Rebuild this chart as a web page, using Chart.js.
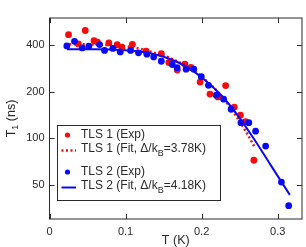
<!DOCTYPE html>
<html>
<head>
<meta charset="utf-8">
<script src="https://cdn.jsdelivr.net/npm/chart.js@4"></script>
<style>
  html, body { margin: 0; padding: 0; background: #fff; }
  #wrap { width: 306px; height: 247px; }
</style>
</head>
<body>
<div id="wrap"><canvas id="t1Chart" width="306" height="247"></canvas></div>
<script>
// temperature (K) and T1 (ns)
const tls1ExpT  = [0.025, 0.047, 0.038, 0.0585, 0.063, 0.078, 0.089, 0.095, 0.109, 0.127, 0.147, 0.157, 0.168, 0.178, 0.186, 0.198, 0.211, 0.2215, 0.2316, 0.243, 0.251, 0.2576, 0.2687];
const tls1ExpT1 = [468, 498, 408, 428, 418, 414, 403, 388, 405, 366, 353, 309, 276, 302, 287, 231, 193, 185, 219, 159, 141, 128, 72];

const tls2ExpT  = [0.0228, 0.0329, 0.043, 0.0517, 0.0658, 0.0724, 0.0833, 0.093, 0.1066, 0.117, 0.128, 0.137, 0.147, 0.1614, 0.1678, 0.1796, 0.1897, 0.1996, 0.209, 0.2193, 0.229, 0.2388, 0.2517, 0.2621, 0.271, 0.2842, 0.3049, 0.3145];
const tls2ExpT1 = [396, 424, 384, 394, 404, 370, 381, 362, 370, 357, 350, 336, 315, 300, 286, 280, 280, 250, 220, 190, 179, 154, 126, 126, 111, 89, 52, 36.6];

const tls1FitT  = [0.026, 0.066, 0.105, 0.136, 0.162, 0.189, 0.215, 0.237, 0.257, 0.269];
const tls1FitT1 = [406, 403, 391, 360, 325, 275, 215, 160, 113, 89];

const tls2FitT  = [0.023, 0.06, 0.1, 0.13, 0.15, 0.17, 0.19, 0.21, 0.23, 0.25, 0.27, 0.29, 0.316];
const tls2FitT1 = [377, 377, 371, 358, 337, 308, 270, 225, 180, 135, 97, 68, 43];

const xTicks = [0, 0.1, 0.2, 0.3];
const yTicks = [50, 100, 200, 400];

const RED = "rgb(250,10,10)";
const BLUE = "rgb(10,10,245)";
const INK = "#2a2a2a";
const FONT = "'Liberation Sans', Arial, Helvetica, sans-serif";

const pts = (xs, ys) => xs.map((x, i) => ({ x: x, y: ys[i] }));

Chart.defaults.font.family = FONT;
Chart.defaults.color = INK;

// frame, inward ticks, axis titles and the boxed legend
const decor = {
  id: "decor",
  afterDraw(chart) {
    const { ctx, chartArea: a, scales } = chart;
    const xs = scales.x, ys = scales.y;
    ctx.save();
    ctx.strokeStyle = INK;
    ctx.lineWidth = 1;
    ctx.strokeRect(a.left, a.top, a.right - a.left, a.bottom - a.top);
    ctx.beginPath();
    const tl = 5;
    xTicks.forEach(v => {
      const p = Math.round(xs.getPixelForValue(v)) + 0.5;
      ctx.moveTo(p, a.bottom); ctx.lineTo(p, a.bottom - tl);
      ctx.moveTo(p, a.top); ctx.lineTo(p, a.top + tl);
    });
    yTicks.forEach(v => {
      const p = Math.round(ys.getPixelForValue(v)) + 0.5;
      ctx.moveTo(a.left, p); ctx.lineTo(a.left + tl, p);
      ctx.moveTo(a.right, p); ctx.lineTo(a.right - tl, p);
    });
    ctx.stroke();

    // x title
    ctx.fillStyle = INK;
    ctx.font = "12.5px " + FONT;
    ctx.textAlign = "center";
    ctx.textBaseline = "middle";
    ctx.fillText("T (K)", (a.left + a.right) / 2, 241);

    // y title with subscript
    ctx.save();
    ctx.translate(12, (a.top + a.bottom) / 2);
    ctx.rotate(-Math.PI / 2);
    ctx.textAlign = "left";
    ctx.font = "12.5px " + FONT;
    const wT = ctx.measureText("T").width;
    ctx.font = "9px " + FONT;
    const w1 = ctx.measureText("1").width;
    ctx.font = "12.5px " + FONT;
    const wRest = ctx.measureText(" (ns)").width;
    let x0 = -(wT + w1 + wRest) / 2;
    ctx.fillText("T", x0, 0);
    ctx.font = "9px " + FONT;
    ctx.fillText("1", x0 + wT, 4);
    ctx.font = "12.5px " + FONT;
    ctx.fillText(" (ns)", x0 + wT + w1, 0);
    ctx.restore();

    // legend box
    const bx = 57.5, by = 125.5, bw = 163, bh = 75;
    ctx.fillStyle = "#fff";
    ctx.fillRect(bx, by, bw, bh);
    ctx.strokeStyle = INK;
    ctx.strokeRect(bx, by, bw, bh);

    const rows = [
      { kind: "dot", color: RED, y: 135, parts: ["TLS 1 (Exp)"] },
      { kind: "dash", color: RED, y: 148.5, parts: ["TLS 1 (Fit, \u0394/k", "B", "=3.78K)"] },
      { kind: "dot", color: BLUE, y: 172, parts: ["TLS 2 (Exp)"] },
      { kind: "line", color: BLUE, y: 185.5, parts: ["TLS 2 (Fit, \u0394/k", "B", "=4.18K)"] }
    ];
    rows.forEach(r => {
      ctx.strokeStyle = r.color;
      ctx.fillStyle = r.color;
      if (r.kind === "dot") {
        ctx.beginPath();
        ctx.arc(67.5, r.y, 2.6, 0, Math.PI * 2);
        ctx.fill();
      } else {
        ctx.beginPath();
        ctx.lineWidth = r.kind === "dash" ? 2.5 : 2;
        ctx.setLineDash(r.kind === "dash" ? [2, 2.5] : []);
        ctx.moveTo(61.5, r.y + 2);
        ctx.lineTo(76, r.y + 2);
        ctx.stroke();
        ctx.setLineDash([]);
      }
      ctx.fillStyle = INK;
      ctx.textAlign = "left";
      ctx.textBaseline = "middle";
      let tx = 81;
      r.parts.forEach((s, i) => {
        const sub = i === 1;
        ctx.font = (sub ? "9px " : "12px ") + FONT;
        ctx.fillText(s, tx, sub ? r.y + 5 : r.y);
        tx += ctx.measureText(s).width;
      });
    });
    ctx.restore();
  }
};

new Chart(document.getElementById("t1Chart"), {
  type: "scatter",
  data: {
    datasets: [
      {
        label: "TLS 2 (Fit)",
        type: "line",
        data: pts(tls2FitT, tls2FitT1),
        borderColor: BLUE,
        borderWidth: 2,
        pointRadius: 0,
        cubicInterpolationMode: "monotone",
        fill: false,
        order: 0
      },
      {
        label: "TLS 2 (Exp)",
        data: pts(tls2ExpT, tls2ExpT1),
        backgroundColor: BLUE,
        borderWidth: 0,
        pointRadius: 3.4,
        order: 1
      },
      {
        label: "TLS 1 (Fit)",
        type: "line",
        data: pts(tls1FitT, tls1FitT1),
        borderColor: RED,
        borderWidth: 2.5,
        borderDash: [2, 2.5],
        pointRadius: 0,
        cubicInterpolationMode: "monotone",
        fill: false,
        order: 2
      },
      {
        label: "TLS 1 (Exp)",
        data: pts(tls1ExpT, tls1ExpT1),
        backgroundColor: RED,
        borderWidth: 0,
        pointRadius: 3.4,
        order: 3
      }
    ]
  },
  options: {
    responsive: false,
    animation: false,
    layout: { padding: { top: 18, right: 4, left: 0, bottom: 0 } },
    plugins: {
      legend: { display: false },
      tooltip: { enabled: false }
    },
    scales: {
      x: {
        type: "linear",
        min: 0,
        max: 0.332,
        afterBuildTicks: s => { s.ticks = xTicks.map(v => ({ value: v })); },
        afterFit: s => { s.height = 28; },
        grid: { display: false, drawTicks: false },
        border: { display: false },
        ticks: {
          padding: 6,
          font: { size: 11 },
          color: INK,
          maxRotation: 0,
          callback: v => (v === 0 ? "0" : v.toFixed(1))
        }
      },
      y: {
        type: "logarithmic",
        min: 30,
        max: 600,
        afterBuildTicks: s => { s.ticks = yTicks.map(v => ({ value: v })); },
        afterFit: s => { s.width = 49.5; },
        grid: { display: false, drawTicks: false },
        border: { display: false },
        ticks: {
          padding: 5,
          font: { size: 11 },
          color: INK,
          callback: v => String(v)
        }
      }
    }
  },
  plugins: [decor]
});
</script>
</body>
</html>
